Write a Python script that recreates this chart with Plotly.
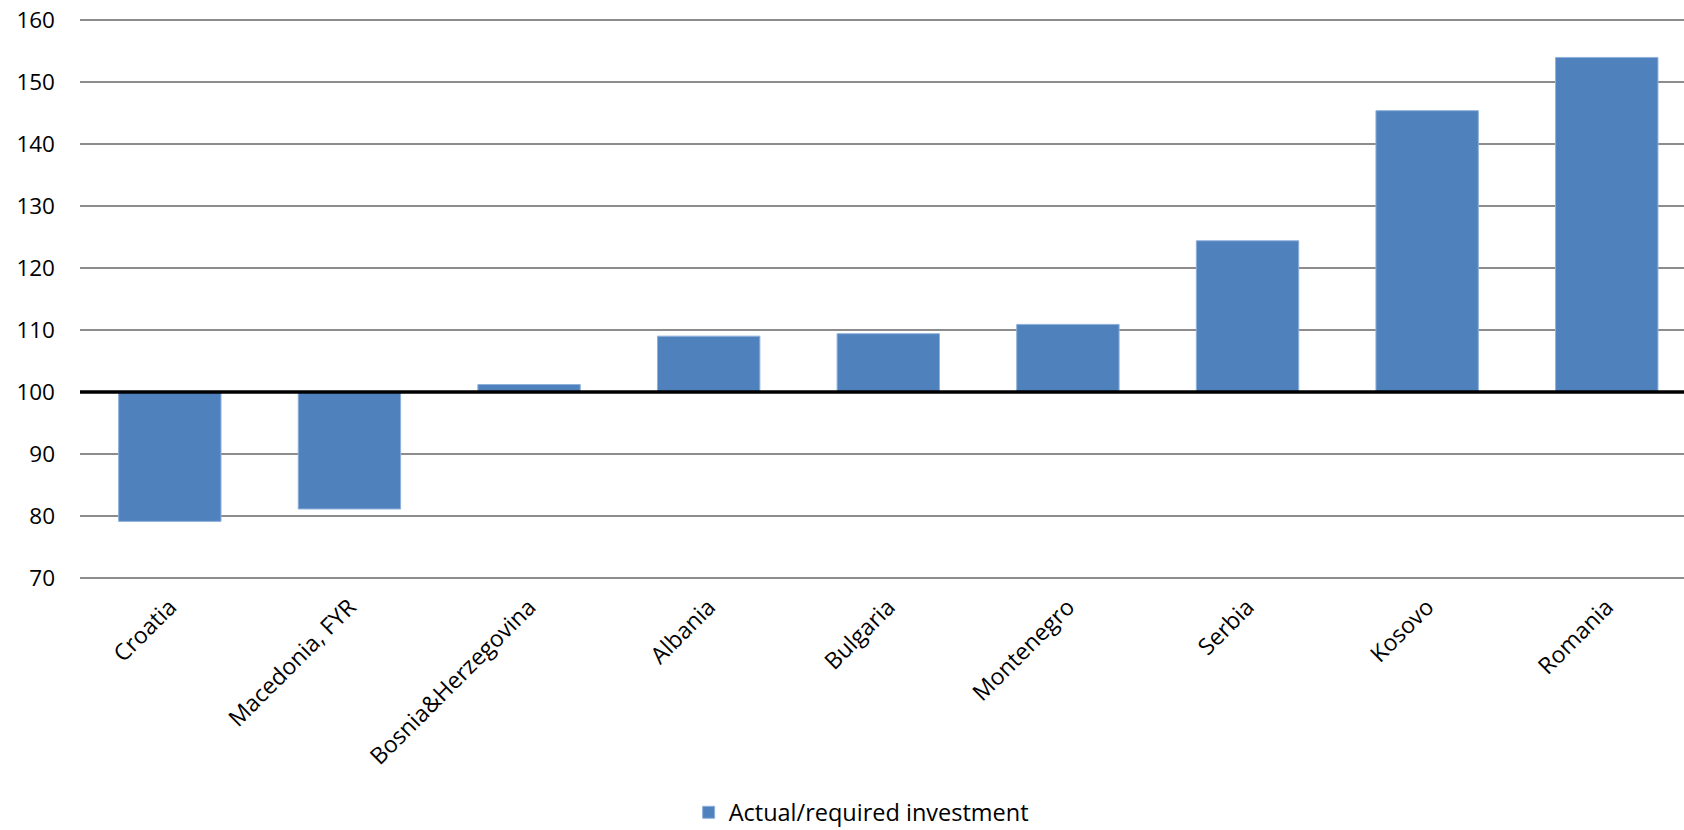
import plotly.graph_objects as go

countries = ["Croatia", "Macedonia, FYR", "Bosnia&Herzegovina", "Albania", "Bulgaria",
             "Montenegro", "Serbia", "Kosovo", "Romania"]
values = [79.1, 81.1, 101.2, 109.0, 109.4, 110.9, 124.4, 145.4, 154.0]
baseline = 100
y_ticks = [70, 80, 90, 100, 110, 120, 130, 140, 150, 160]
series_name = "Actual/required investment"

FONT = "Open Sans"

fig = go.Figure()
fig.add_trace(go.Bar(
    x=countries,
    y=[v - baseline for v in values],
    base=[baseline] * len(values),
    name=series_name,
    marker=dict(color="#4F81BD", line=dict(color="#8fb0dc", width=1)),
    showlegend=True,
))

fig.add_shape(type="line", xref="paper", yref="y", x0=0, x1=1, y0=baseline, y1=baseline,
              line=dict(color="black", width=3.5), layer="above")

fig.update_layout(
    width=1684, height=830,
    paper_bgcolor="white", plot_bgcolor="white",
    margin=dict(l=80, r=0, t=19, b=251, autoexpand=False),
    bargap=0.43,
    font=dict(family=FONT, size=23, color="black"),
    xaxis=dict(
        range=[-0.5, 8.43],
        tickangle=-45,
        showgrid=False, showline=False, zeroline=False,
        ticks="", ticklabelstandoff=9,
        tickfont=dict(family=FONT, size=23),
        automargin=False,
    ),
    yaxis=dict(
        range=[69.8, 160.2],
        tickvals=y_ticks,
        showgrid=True, gridcolor="#8c8c8c", gridwidth=1.5,
        zeroline=False, showline=False, ticks="",
        ticklabelstandoff=24, ticklabeloverflow="allow",
        tickfont=dict(family=FONT, size=22.5),
        automargin=False,
    ),
    legend=dict(
        orientation="h", x=0.487, xanchor="center", y=-0.417, yanchor="middle",
        font=dict(family=FONT, size=23.5),
        itemwidth=30, bgcolor="rgba(0,0,0,0)",
    ),
)

fig.write_html("out.html", config={"displayModeBar": False},
               post_script="document.body.style.margin='0';document.body.style.overflow='hidden';")
